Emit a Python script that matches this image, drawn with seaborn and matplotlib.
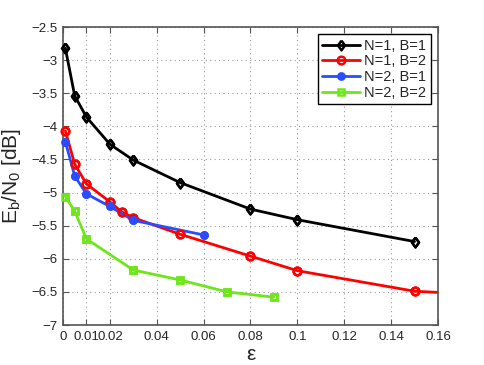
import matplotlib
matplotlib.use("Agg")
import matplotlib.pyplot as plt
import seaborn as sns
import numpy as np

sns.set_style("white")
plt.rcParams['font.family'] = ['Liberation Sans', 'DejaVu Sans']

x_n1b1 = [0.001, 0.005, 0.01, 0.02, 0.03, 0.05, 0.08, 0.1, 0.15]
y_n1b1 = [-2.82, -3.54, -3.86, -4.27, -4.51, -4.85, -5.25, -5.41, -5.74]

x_n1b2 = [0.001, 0.005, 0.01, 0.02, 0.025, 0.03, 0.05, 0.08, 0.1, 0.15, 0.2]
y_n1b2 = [-4.07, -4.57, -4.87, -5.14, -5.29, -5.38, -5.63, -5.96, -6.18, -6.49, -6.58]

x_n2b1 = [0.001, 0.005, 0.01, 0.02, 0.03, 0.06]
y_n2b1 = [-4.23, -4.75, -5.02, -5.21, -5.42, -5.64]

x_n2b2 = [0.001, 0.005, 0.01, 0.03, 0.05, 0.07, 0.09]
y_n2b2 = [-5.06, -5.28, -5.70, -6.17, -6.32, -6.50, -6.58]

labels = ["N=1, B=1", "N=1, B=2", "N=2, B=1", "N=2, B=2"]
x_ticks = [0, 0.01, 0.02, 0.04, 0.06, 0.08, 0.1, 0.12, 0.14, 0.16]
x_tick_labels = ["0", "0.01", "0.02", "0.04", "0.06", "0.08", "0.1", "0.12", "0.14", "0.16"]
y_ticks = [-7, -6.5, -6, -5.5, -5, -4.5, -4, -3.5, -3, -2.5]

fig = plt.figure(figsize=(4.85, 3.65), dpi=100)
ax = fig.add_axes([63/485, 1-325/365, (438-63)/485, (325-27)/365])

diamond = [(0, 1), (0.72, 0), (0, -1), (-0.72, 0), (0, 1)]
xmax = 0.16

series = [
    (x_n1b1, y_n1b1, "black", diamond, 7, "none"),
    (x_n1b2, y_n1b2, "#ff0000", "o", 5.5, "none"),
    (x_n2b1, y_n2b1, "#2a4cff", "o", 4.5, "#2a4cff"),
    (x_n2b2, y_n2b2, "#6ee619", "s", 5, "none"),
]
for (xs, ys, c, m, ms, fc), lab in zip(series, labels):
    sns.lineplot(x=xs, y=ys, ax=ax, color=c, marker=m, markersize=ms,
                 markerfacecolor=fc, markeredgecolor=c, markeredgewidth=1.8,
                 linewidth=2, label=lab, sort=False)
    inside = [i for i, v in enumerate(xs) if v <= xmax]
    ax.plot([xs[i] for i in inside], [ys[i] for i in inside], linestyle="none",
            marker=m, markersize=ms, markerfacecolor=fc, markeredgecolor=c,
            markeredgewidth=1.8, clip_on=False, zorder=3)

ax.set_xlim(0, xmax)
ax.set_ylim(-7, -2.5)
ax.set_xticks(x_ticks)
ax.set_xticklabels(x_tick_labels)
ax.set_yticks(y_ticks)
ax.set_yticklabels([("%g" % v).replace("-", "\u2212") for v in y_ticks])
ax.tick_params(direction="in", length=4, labelsize=9.5, top=True, right=True,
               bottom=True, left=True, color="#555555", pad=4)
ax.grid(True, linestyle=(0, (1, 3)), color="#999999", linewidth=0.8)
for s in ax.spines.values():
    s.set_color("#555555")
    s.set_linewidth(1.2)

ax.set_xlabel("\u03b5", fontsize=15, labelpad=2)
ax.set_ylabel(r"E$_\mathregular{b}$/N$_\mathregular{0}$ [dB]", fontsize=15, labelpad=6)

leg = ax.legend(loc="upper right", fontsize=10.5, frameon=True, fancybox=False,
                borderaxespad=0.5, handlelength=2.6, labelspacing=0.12,
                borderpad=0.3, handletextpad=0.3, framealpha=1)
leg.get_frame().set_edgecolor("black")
leg.get_frame().set_linewidth(1.0)

fig.savefig("out.png", dpi=100)
